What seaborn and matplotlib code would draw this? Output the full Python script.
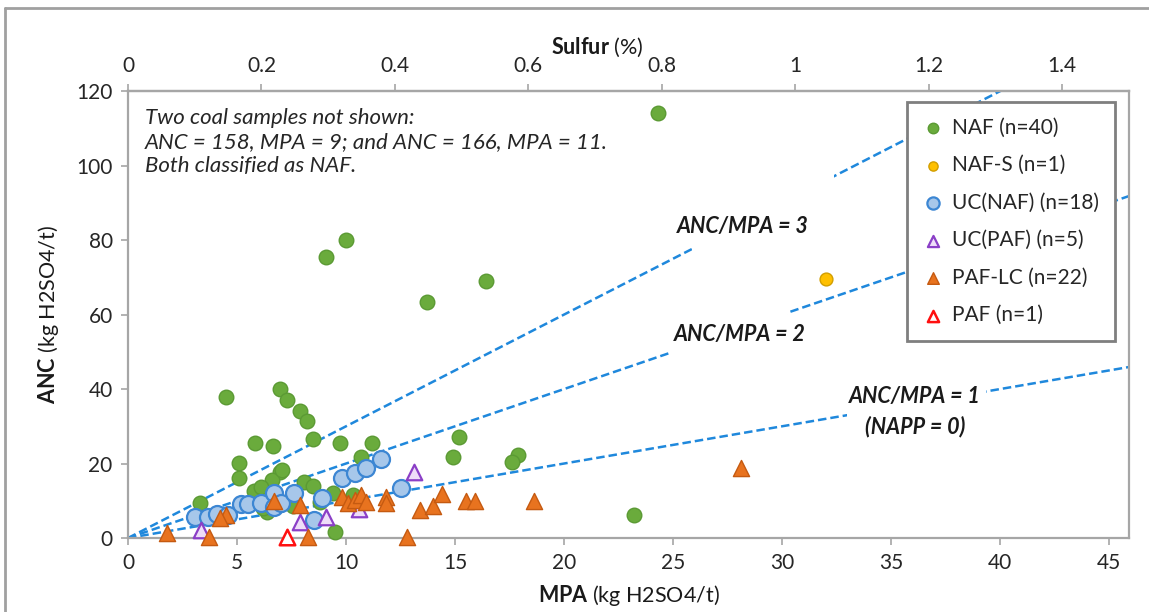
import numpy as np
import pandas as pd
import matplotlib
matplotlib.use("Agg")
import matplotlib.pyplot as plt
import seaborn as sns
from matplotlib.patches import Rectangle
from matplotlib.lines import Line2D

# ---------------- data ----------------
naf_mpa = [24.3, 10.0, 9.1, 16.4, 13.7, 4.5, 6.96, 7.27, 7.87, 8.19, 8.47, 5.81, 6.64,
           9.7, 11.2, 10.7, 5.1, 5.1, 6.96, 6.6, 5.77, 6.08, 8.05, 8.47, 3.3, 7.55,
           6.36, 9.4, 8.8, 9.5, 15.2, 14.9, 17.9, 17.6, 23.2, 7.05, 10.3, 6.2]
naf_anc = [114.1, 80.0, 75.4, 69.0, 63.4, 37.9, 40.0, 37.0, 34.1, 31.4, 26.6, 25.6, 24.7,
           25.5, 25.5, 21.8, 20.2, 16.1, 17.7, 15.6, 12.6, 13.7, 15.0, 14.0, 9.4, 8.6,
           7.0, 12.0, 9.7, 1.6, 27.1, 21.8, 22.3, 20.4, 6.2, 18.3, 11.5, 8.0]

nafs_mpa = [32.0]
nafs_anc = [69.5]

ucnaf_mpa = [3.07, 3.67, 4.07, 4.6, 5.2, 5.5, 6.1, 6.7, 6.7, 7.0, 7.6, 8.9, 8.55, 9.8,
             10.4, 10.9, 11.6, 12.5]
ucnaf_anc = [5.6, 5.6, 6.4, 6.3, 9.1, 9.1, 9.3, 12.1, 8.3, 9.5, 12.1, 10.7, 4.8, 16.1,
             17.4, 18.8, 21.2, 13.4]

ucpaf_mpa = [3.35, 7.9, 9.1, 10.6, 13.1]
ucpaf_anc = [2.1, 4.3, 5.6, 7.7, 17.8]

paflc_mpa = [1.8, 3.7, 4.5, 4.2, 6.7, 7.9, 8.25, 9.8, 10.1, 10.4, 10.7, 10.9, 11.85,
             11.85, 12.8, 13.4, 14.0, 14.4, 15.5, 15.9, 18.6, 28.1]
paflc_anc = [1.4, 0.2, 6.2, 5.5, 10.0, 8.8, 0.2, 11.0, 9.4, 10.2, 11.5, 9.8, 11.0,
             9.4, 0.3, 7.5, 8.6, 11.8, 10.0, 10.0, 10.0, 18.8]

paf_mpa = [7.3]
paf_anc = [0.3]

ratios = [3, 2, 1]
x_ticks = [0, 5, 10, 15, 20, 25, 30, 35, 40, 45]
y_ticks = [0, 20, 40, 60, 80, 100, 120]
s_ticks = [0, 0.2, 0.4, 0.6, 0.8, 1.0, 1.2, 1.4]
s_to_mpa = 30.6

# ---------------- style ----------------
sns.set_theme(style="white")
plt.rcParams['font.family'] = ['Lato', 'DejaVu Sans']
plt.rcParams['mathtext.fontset'] = 'custom'
plt.rcParams['mathtext.rm'] = 'Lato'
plt.rcParams['mathtext.bf'] = 'Lato:bold'
plt.rcParams['mathtext.it'] = 'Lato:italic'

fig = plt.figure(figsize=(11.49, 6.12), dpi=100)
ax = fig.add_axes([0.1114, 0.1209, 0.8712, 0.7304])

# outer figure border (top and left visible)
fig.add_artist(Line2D([0.0044, 1.0], [0.987, 0.987], transform=fig.transFigure,
                      color='#A0A0A0', lw=2))
fig.add_artist(Line2D([0.0044, 0.0044], [0.0, 0.987], transform=fig.transFigure,
                      color='#A0A0A0', lw=2))

# ratio lines
xline = np.linspace(0, 45.9, 300)
for r in ratios:
    ax.plot(xline, r * xline, color='#1F88DC', lw=1.8, ls=(0, (3.4, 1.6)), zorder=1.5)

# white gaps behind line labels
for (x0, x1, y0, y1) in [(25.86, 32.36, 76.0, 98.8), (24.9, 30.2, 48.0, 62.0),
                         (32.95, 39.36, 31.0, 41.0)]:
    ax.add_patch(Rectangle((x0, y0), x1 - x0, y1 - y0, fc='white', ec='none', zorder=1.8))

lab_kw = dict(fontsize=15.5, fontweight='bold', fontstyle='italic', ha='center',
              va='center', color='#1a1a1a', zorder=4)
ax.text(28.2, 83.5, "ANC/MPA = 3", **lab_kw)
ax.text(28.05, 54.5, "ANC/MPA = 2", **lab_kw)
ax.text(36.1, 38.0, "ANC/MPA = 1", **lab_kw)
ax.text(36.1, 29.8, "(NAPP = 0)", **lab_kw)

# scatter groups
common = dict(ax=ax, clip_on=False)
sns.scatterplot(x=naf_mpa, y=naf_anc, s=110, color='#6AAB3C', edgecolor='#5B9A34',
                linewidth=1.0, marker='o', label='NAF (n=40)', zorder=3, **common)
sns.scatterplot(x=nafs_mpa, y=nafs_anc, s=85, color='#FFC000', edgecolor='#D29E00',
                linewidth=1.0, marker='o', label='NAF-S (n=1)', zorder=3.1, **common)
sns.scatterplot(x=ucnaf_mpa, y=ucnaf_anc, s=150, color='#A7C7EA', edgecolor='#3C86D3',
                linewidth=1.6, marker='o', label='UC(NAF) (n=18)', zorder=3.2, **common)
sns.scatterplot(x=ucpaf_mpa, y=ucpaf_anc, s=125, color='#EEDDF8', edgecolor='#8B3FC7',
                linewidth=1.6, marker='^', label='UC(PAF) (n=5)', zorder=3.3, **common)
sns.scatterplot(x=paflc_mpa, y=paflc_anc, s=135, color='#E8731F', edgecolor='#C55A11',
                linewidth=1.0, marker='^', label='PAF-LC (n=22)', zorder=3.4, **common)
sns.scatterplot(x=paf_mpa, y=paf_anc, s=125, color='white', edgecolor='#FF1010',
                linewidth=1.8, marker='^', label='PAF (n=1)', zorder=3.5, **common)

ax.set_xlim(0, 45.9)
ax.set_ylim(0, 120)
ax.set_xticks(x_ticks)
ax.set_yticks(y_ticks)

for sp in ax.spines.values():
    sp.set_color('#A6A6A6')
    sp.set_linewidth(1.6)
ax.tick_params(axis='both', which='major', direction='out', length=5, width=1.2,
               color='#A6A6A6', labelsize=15, labelcolor='#262626', pad=6)
ax.tick_params(axis='x', bottom=True)
ax.tick_params(axis='y', left=True)

ax.set_xlabel(r"$\mathbf{MPA}$ (kg H2SO4/t)", fontsize=15.5, color='#1a1a1a', labelpad=7)
ax.set_ylabel(r"$\mathbf{ANC}$ (kg H2SO4/t)", fontsize=15.5, color='#1a1a1a', labelpad=11)

# top sulfur axis
sec = ax.secondary_xaxis('top', functions=(lambda m: m / s_to_mpa, lambda s: s * s_to_mpa))
sec.set_xticks(s_ticks)
sec.set_xticklabels([f"{v:g}" for v in s_ticks])
sec.tick_params(direction='out', length=5, width=1.2, color='#A6A6A6', labelsize=15,
                labelcolor='#262626', pad=6)
sec.spines['top'].set_color('#A6A6A6')
sec.spines['top'].set_linewidth(1.6)
ax.text(0.4685, 1.098, r"$\mathbf{Sulfur}$ (%)", transform=ax.transAxes, fontsize=15.5,
        color='#1a1a1a', ha='center', va='center')

# note text
ax.text(0.017, 0.962,
        "Two coal samples not shown:\nANC = 158, MPA = 9; and ANC = 166, MPA = 11.\nBoth classified as NAF.",
        transform=ax.transAxes, fontsize=16, fontstyle='italic', ha='left', va='top',
        color='#262626', linespacing=1.25, zorder=4)

leg = ax.legend(loc='upper right', bbox_to_anchor=(0.986, 0.975), frameon=True,
                fancybox=False, edgecolor='#7F7F7F', framealpha=1, fontsize=15,
                labelspacing=0.84, handletextpad=0.45, handlelength=1.0, borderpad=0.75,
                markerscale=0.72, borderaxespad=0)
leg.get_frame().set_linewidth(2)
leg.set_zorder(6)
for t in leg.get_texts():
    t.set_color('#262626')

fig.savefig("out.png", dpi=100)
